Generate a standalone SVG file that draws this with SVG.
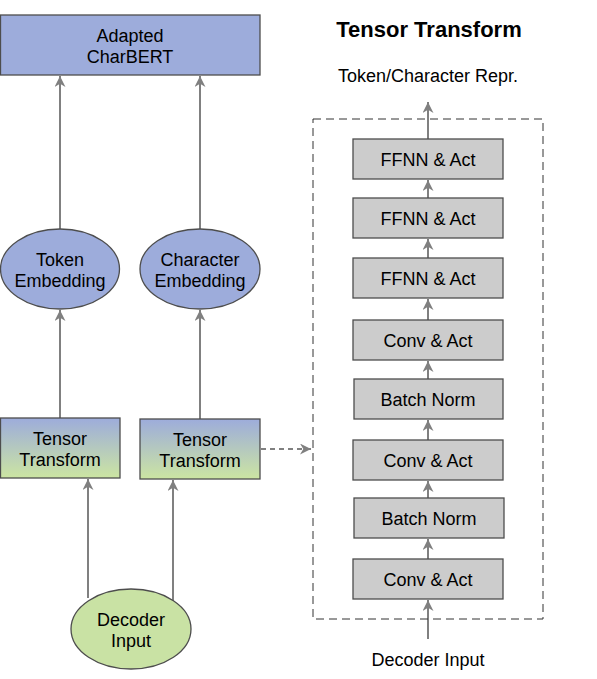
<svg xmlns="http://www.w3.org/2000/svg" width="597" height="679" viewBox="0 0 597 679">
<style>
text{font-family:"Liberation Sans",Arial,sans-serif;font-size:18px;fill:#000;text-anchor:middle}
.blue{fill:#9dacdb;stroke:#4d4d4d;stroke-width:1.3}
.green{fill:#c9e2a4;stroke:#4d4d4d;stroke-width:1.3}
.grad{fill:url(#g);stroke:#4d4d4d;stroke-width:1.3}
.gray{fill:#cccccc;stroke:#4d4d4d;stroke-width:1.3}
.c{stroke:#808080;stroke-width:2;fill:none}
.d{stroke:#808080;stroke-width:2;fill:none;stroke-dasharray:5 4}
</style>
<defs>
<linearGradient id="g" x1="0" y1="0" x2="0" y2="1">
<stop offset="0" stop-color="#9dacdb"/>
<stop offset="1" stop-color="#cce5a2"/>
</linearGradient>
<marker id="a" viewBox="0 0 10 10" refX="10" refY="5" markerWidth="5.5" markerHeight="5.5" orient="auto" markerUnits="strokeWidth">
<path d="M0,0 L10,5 L0,10 L3,5 z" fill="#808080"/>
</marker>
</defs>
<g id="connectors">
<line class="c" x1="60" y1="229" x2="60" y2="76" marker-end="url(#a)"/>
<line class="c" x1="200" y1="229" x2="200" y2="76" marker-end="url(#a)"/>
<line class="c" x1="60" y1="418" x2="60" y2="310" marker-end="url(#a)"/>
<line class="c" x1="200" y1="419" x2="200" y2="310" marker-end="url(#a)"/>
<line class="c" x1="88" y1="598" x2="88" y2="479" marker-end="url(#a)"/>
<line class="c" x1="173" y1="601" x2="173" y2="480" marker-end="url(#a)"/>
<line class="d" x1="261" y1="449" x2="311" y2="449" marker-end="url(#a)"/>
<line class="c" x1="428" y1="139" x2="428" y2="102" marker-end="url(#a)"/>
<line class="c" x1="428" y1="198" x2="428" y2="180" marker-end="url(#a)"/>
<line class="c" x1="428" y1="258" x2="428" y2="239" marker-end="url(#a)"/>
<line class="c" x1="428" y1="320" x2="428" y2="299" marker-end="url(#a)"/>
<line class="c" x1="428" y1="379" x2="428" y2="361" marker-end="url(#a)"/>
<line class="c" x1="428" y1="440" x2="428" y2="420" marker-end="url(#a)"/>
<line class="c" x1="428" y1="498" x2="428" y2="481" marker-end="url(#a)"/>
<line class="c" x1="428" y1="559" x2="428" y2="539" marker-end="url(#a)"/>
<line class="c" x1="428" y1="639" x2="428" y2="600" marker-end="url(#a)"/>
</g>
<g id="adapted-charbert">
<rect class="blue" x="0.5" y="15" width="259.5" height="60"/>
<text x="130" y="42">Adapted</text>
<text x="130" y="63">CharBERT</text>
</g>
<g id="token-embedding">
<ellipse class="blue" cx="60" cy="269" rx="59.5" ry="40"/>
<text x="60" y="266">Token</text>
<text x="60" y="287">Embedding</text>
</g>
<g id="character-embedding">
<ellipse class="blue" cx="200" cy="269" rx="60" ry="40"/>
<text x="200" y="266">Character</text>
<text x="200" y="287">Embedding</text>
</g>
<g id="tensor-transform-1">
<rect class="grad" x="0.5" y="418" width="119.5" height="60"/>
<text x="60" y="445">Tensor</text>
<text x="60" y="466">Transform</text>
</g>
<g id="tensor-transform-2">
<rect class="grad" x="140" y="419" width="120" height="60"/>
<text x="200" y="446">Tensor</text>
<text x="200" y="467">Transform</text>
</g>
<g id="decoder-input">
<ellipse class="green" cx="131" cy="629" rx="60" ry="40"/>
<text x="131" y="626">Decoder</text>
<text x="131" y="647">Input</text>
</g>
<g id="tensor-transform-detail">
<rect x="313" y="119" width="230" height="500" fill="none" stroke="#333333" stroke-width="1" stroke-dasharray="8 5"/>
<text x="429" y="37" style="font-weight:bold;font-size:22px">Tensor Transform</text>
<text x="428" y="82">Token/Character Repr.</text>
<text x="428" y="666">Decoder Input</text>
</g>
<g id="ffnn-1"><rect class="gray" x="353" y="139" width="150" height="40"/><text x="428" y="165.5">FFNN &amp; Act</text></g>
<g id="ffnn-2"><rect class="gray" x="353" y="198" width="150" height="40"/><text x="428" y="224.5">FFNN &amp; Act</text></g>
<g id="ffnn-3"><rect class="gray" x="353" y="258" width="150" height="40"/><text x="428" y="284.5">FFNN &amp; Act</text></g>
<g id="conv-1"><rect class="gray" x="353" y="320" width="150" height="40"/><text x="428" y="346.5">Conv &amp; Act</text></g>
<g id="batchnorm-1"><rect class="gray" x="354" y="379" width="149" height="40"/><text x="428" y="405.5">Batch Norm</text></g>
<g id="conv-2"><rect class="gray" x="353" y="440" width="150" height="40"/><text x="428" y="466.5">Conv &amp; Act</text></g>
<g id="batchnorm-2"><rect class="gray" x="354" y="498" width="150" height="40"/><text x="429" y="524.5">Batch Norm</text></g>
<g id="conv-3"><rect class="gray" x="353" y="559" width="150" height="40"/><text x="428" y="585.5">Conv &amp; Act</text></g>
</svg>
